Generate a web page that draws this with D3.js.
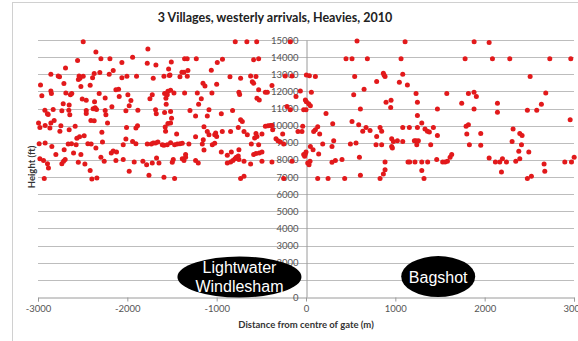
<!DOCTYPE html>
<html><head><meta charset="utf-8">
<script src="https://cdn.jsdelivr.net/npm/d3@7/dist/d3.min.js"></script>
<style>html,body{margin:0;padding:0;background:#fff;}svg{display:block;}</style>
</head><body>
<script>
const title = "3 Villages, westerly arrivals, Heavies, 2010";
const xTitle = "Distance from centre of gate (m)";
const yTitle = "Height (ft)";
const xTicks = [-3000, -2000, -1000, 0, 1000, 2000, 3000];
const yTicks = d3.range(0, 15001, 1000);
const labels = [
  {lines: ["Lightwater", "Windlesham"], x: -745, y: 1170},
  {lines: ["Bagshot"], x: 1480, y: 1190}
];
// [distance (m), height (ft)]
const arrivalsWestA = [[-2494,14900],[-2352,14300],[-2557,13800],[-2296,13900],[-2195,13900],[-2061,13680],[-1941,14000],[-2692,13370],[-2856,13000],[-2774,12900],[-2759,12860],[-2540,12900],[-2530,12770],[-2548,12700],[-2494,12890],[-2389,12800],[-2371,13040],[-2308,13100],[-2203,13000],[-2158,13215],[-2061,12800],[-2005,12890],[-1897,12890],[-2972,12380],[-2710,12460],[-2520,12280],[-2416,12360],[-2957,11740],[-2856,12030],[-2850,11880],[-2688,11900],[-2637,11800],[-2622,11880],[-2505,11550],[-2460,11490],[-2315,11880],[-2248,11620],[-2128,12090],[-2098,12130],[-2091,11700],[-1994,11800],[-1960,11470],[-1979,11160],[-2718,11275],[-2651,11200],[-2655,10900],[-2644,10635],[-2923,10900],[-2886,10650],[-2895,10700],[-2830,10950],[-2733,10870],[-2460,10890],[-2460,10710],[-2383,10990],[-2345,10950],[-2360,11040],[-2367,11400],[-2248,10890],[-2240,10635],[-2173,11100],[-2016,10870],[-1882,10900],[-2994,10150],[-2979,9900],[-2920,10010],[-2819,10300],[-2856,10150],[-2867,9860],[-2744,10000],[-2755,9670],[-2584,9960],[-2651,9760],[-2408,10300],[-2371,10290],[-2285,9610],[-2222,10150],[-2009,9900],[-1904,9860],[-1886,10000],[-2987,8950],[-2920,8990],[-2845,8790],[-2800,8310],[-2707,8600],[-2662,8930],[-2625,8950],[-2565,9270],[-2535,9350],[-2483,9410],[-2573,8890],[-2442,8950],[-2405,8930],[-2602,8400],[-2520,8310],[-2352,8700],[-2278,9040],[-2180,8400],[-2158,8520],[-2121,8460],[-2046,8890],[-2016,9220],[-1941,9080],[-1904,8950],[-2979,8070],[-2938,7960],[-2894,7780],[-2883,7530],[-2733,7780],[-2714,7920],[-2696,8020],[-2549,7860],[-2475,7760],[-2416,7380],[-2296,8160],[-2259,7920],[-2128,7960],[-2046,8020],[-1979,7340],[-1923,7880],[-1826,7920],[-2930,6910],[-2397,6890],[-2341,6950]];
const arrivalsWestB = [[-1770,14480],[-792,14900],[-662,14900],[-1777,13640],[-1680,13545],[-1508,13720],[-1538,13310],[-1523,12960],[-1359,13900],[-1330,13910],[-1228,13900],[-993,13680],[-935,13875],[-1710,12770],[-1590,12890],[-1530,12925],[-1411,12860],[-1389,13120],[-1366,13120],[-1322,13215],[-1329,12890],[-1153,12480],[-1131,12320],[-1060,13235],[-1000,12420],[-851,12860],[-732,12770],[-620,12900],[-601,12570],[-1747,11565],[-1721,11800],[-1583,11880],[-1568,11600],[-1553,11800],[-1546,12010],[-1516,12070],[-1478,11900],[-1565,11250],[-1359,11900],[-1217,11900],[-1172,11565],[-1202,11250],[-1053,11900],[-751,11950],[-743,11820],[-1684,10925],[-1676,10700],[-1583,10770],[-1516,10830],[-1505,10440],[-1299,10890],[-1236,10570],[-1105,10570],[-1086,10925],[-948,10700],[-822,10890],[-732,10340],[-713,10250],[-1546,10130],[-1516,10150],[-1576,9920],[-1572,9670],[-1448,9510],[-1142,9940],[-1236,9350],[-1086,9470],[-1105,9660],[-1011,9570],[-1022,9470],[-1000,9370],[-937,9660],[-844,9660],[-758,9900],[-694,9660],[-657,9470],[-1777,8930],[-1732,8930],[-1710,8990],[-1684,8990],[-1658,9040],[-1609,8890],[-1590,8850],[-1553,8890],[-1516,9000],[-1471,8890],[-1441,8930],[-1411,8950],[-1385,8970],[-1311,8930],[-1161,8930],[-1150,9180],[-1142,8580],[-1049,8890],[-1022,8970],[-948,8460],[-881,8270],[-836,8460],[-751,8600],[-612,8930],[-1784,7720],[-1721,7820],[-1673,8110],[-1646,7820],[-1486,8020],[-1497,7860],[-1385,8070],[-1348,8150],[-1366,7960],[-1236,7960],[-1206,7820],[-1348,8310],[-881,7820],[-844,7880],[-818,7960],[-795,8070],[-780,8150],[-758,8230],[-751,8020],[-694,7920],[-620,7760],[-1758,7100],[-1590,6990],[-1471,6910],[-732,6910],[-694,7050]];
const arrivalsCentre = [[-552,14900],[-176,14900],[571,14940],[-586,13840],[-530,13900],[448,13900],[515,13900],[-560,12870],[-232,12900],[-157,12900],[4,12960],[38,12920],[105,12870],[545,12870],[-586,12480],[-530,12090],[-455,11950],[-433,11950],[-381,12340],[-549,11600],[-523,11500],[-213,11120],[-176,10925],[-112,11700],[-63,12030],[-7,11500],[4,11400],[30,11275],[49,11160],[-26,10925],[0,10925],[60,11950],[224,10710],[534,11800],[609,10980],[299,10110],[515,10250],[590,10050],[-455,9960],[-425,10000],[-399,10010],[-381,10010],[-373,9760],[-560,9550],[-493,9510],[-575,9280],[-549,9370],[-336,9240],[-314,9120],[-288,9040],[-261,9510],[-250,8930],[-90,9660],[-45,9660],[-37,9960],[86,9660],[105,9760],[131,9940],[153,9510],[-530,8890],[49,8790],[187,8930],[310,9120],[291,8790],[497,8930],[560,8990],[-586,8310],[-560,8380],[-523,8400],[-493,8460],[-493,7920],[-381,7880],[-157,7920],[-26,8310],[-7,8350],[0,8460],[-15,8210],[79,8600],[19,7820],[45,7920],[34,7720],[142,8350],[291,7860],[329,7960],[403,8020],[598,8150],[-250,6910],[131,6910],[247,6910],[433,6910],[609,7100]];
const arrivalsEastA = [[1109,14900],[687,13900],[1064,13900],[1781,13900],[866,13060],[885,12870],[874,12960],[1083,13000],[791,12575],[1045,12540],[1135,12380],[650,12130],[1232,11880],[1576,11880],[1818,11880],[896,11370],[952,11490],[948,11060],[1247,11370],[1471,10980],[1743,11310],[1247,10590],[1296,10150],[672,9900],[717,9720],[829,9900],[847,9670],[1083,9900],[1157,9900],[1247,9900],[1332,9800],[1359,9670],[1381,9630],[1426,9900],[1471,9430],[1792,9960],[1818,10050],[1800,9510],[635,9670],[791,9370],[959,9240],[978,9080],[1023,9120],[1083,9080],[1213,9120],[1232,9120],[1258,9120],[784,8890],[847,8890],[959,8790],[967,8700],[1240,8890],[1396,8890],[1829,8890],[885,7880],[1142,7880],[1161,7880],[1220,7880],[1296,7880],[1362,7880],[1463,8020],[1530,7880],[1557,7880],[1583,7920],[1613,8150],[1631,8310],[885,7430],[866,7180],[1296,7380],[829,6910],[1321,6910]];
const arrivalsEastB = [[1882,14900],[2050,14860],[2087,13900],[2281,13900],[2729,13900],[2964,13900],[2509,12870],[1881,11950],[1907,11700],[2684,11900],[2143,11310],[2143,10790],[1881,10980],[2478,10900],[2583,10900],[2635,11250],[2957,10340],[1956,9550],[2318,9800],[2393,9550],[2419,9430],[1956,8850],[2307,9080],[2412,8890],[2382,8500],[2494,8460],[2050,8110],[2120,7880],[2169,7880],[2199,8070],[2244,7880],[2348,7920],[2393,8070],[2665,7760],[2897,7880],[2972,7880],[3002,8150],[2188,7300],[2673,7340],[2478,6910],[2523,7050]];
const arrivals = [].concat(arrivalsWestA, arrivalsWestB, arrivalsCentre, arrivalsEastA, arrivalsEastB);

const W = 578, H = 341;
const svg = d3.select("body").append("svg").attr("width", W).attr("height", H);
svg.append("rect").attr("x", 12.5).attr("y", 2.5).attr("width", 620).attr("height", 400)
  .attr("fill", "#fff").attr("stroke", "#d0d0d0");

const x = d3.scaleLinear().domain([-3000, 3000]).range([38, 574]);
const y = d3.scaleLinear().domain([0, 15000]).range([297, 40]);
const font = "Lato, 'Open Sans', sans-serif";

svg.append("text").attr("x", 275).attr("y", 22).attr("text-anchor", "middle")
  .attr("font-family", font).attr("font-weight", "bold").attr("font-size", 12.5)
  .attr("fill", "#222").text(title);

// gridlines
svg.append("g").selectAll("line").data(yTicks.filter(d => d > 0)).join("line")
  .attr("x1", x(-3000)).attr("x2", x(3000))
  .attr("y1", d => Math.round(y(d)) + 0.5).attr("y2", d => Math.round(y(d)) + 0.5)
  .attr("stroke", "#bdbdbd").attr("stroke-width", 1);

// x axis at y=0
const xAxis = d3.axisBottom(x).tickValues(xTicks).tickSize(4).tickPadding(4).tickFormat(d3.format("d"));
const gx = svg.append("g").attr("transform", `translate(0,${Math.round(y(0)) + 0.5})`).call(xAxis);
gx.select(".domain").attr("stroke", "#9a9a9a");
gx.selectAll(".tick line").attr("stroke", "#9a9a9a");
gx.selectAll("text").attr("font-family", font).attr("font-size", 9.5).attr("fill", "#555")
  .text(d => d < 0 ? "-" + Math.abs(d) : d);

// y axis at x=0
const yAxis = d3.axisLeft(y).tickValues(yTicks).tickSize(0).tickPadding(8).tickFormat(d3.format("d"));
const gy = svg.append("g").attr("transform", `translate(${Math.round(x(0)) + 0.5},0)`).call(yAxis);
gy.select(".domain").attr("stroke", "#9a9a9a");
gy.selectAll("text").attr("font-family", font).attr("font-size", 9.5).attr("fill", "#555");

// points
svg.append("g").selectAll("circle").data(arrivals).join("circle")
  .attr("cx", d => x(d[0])).attr("cy", d => y(d[1])).attr("r", 2.5)
  .attr("fill", "#e2191b");

// axis titles
svg.append("text").attr("x", x(0)).attr("y", 328).attr("text-anchor", "middle")
  .attr("font-family", font).attr("font-weight", "bold").attr("font-size", 9.5)
  .attr("fill", "#333").text(xTitle);
svg.append("text").attr("transform", "translate(35,167) rotate(-90)").attr("text-anchor", "middle")
  .attr("font-family", font).attr("font-weight", "bold").attr("font-size", 9.5)
  .attr("fill", "#333").text(yTitle);

// village labels
const lab = svg.append("g").selectAll("g").data(labels).join("g");
lab.append("ellipse").attr("cx", d => x(d.x)).attr("cy", d => y(d.y))
  .attr("rx", d => d.lines.length > 1 ? 62 : 37).attr("ry", 20.5).attr("fill", "#000");
lab.each(function(d) {
  const g = d3.select(this);
  const n = d.lines.length;
  d.lines.forEach((t, i) => {
    g.append("text").attr("x", x(d.x)).attr("y", y(d.y) + 6 + (i - (n - 1) / 2) * 19)
      .attr("text-anchor", "middle").attr("font-family", "'Liberation Sans', Arial, sans-serif")
      .attr("font-size", 16).attr("fill", "#fff").text(t);
  });
});
</script>
</body></html>
